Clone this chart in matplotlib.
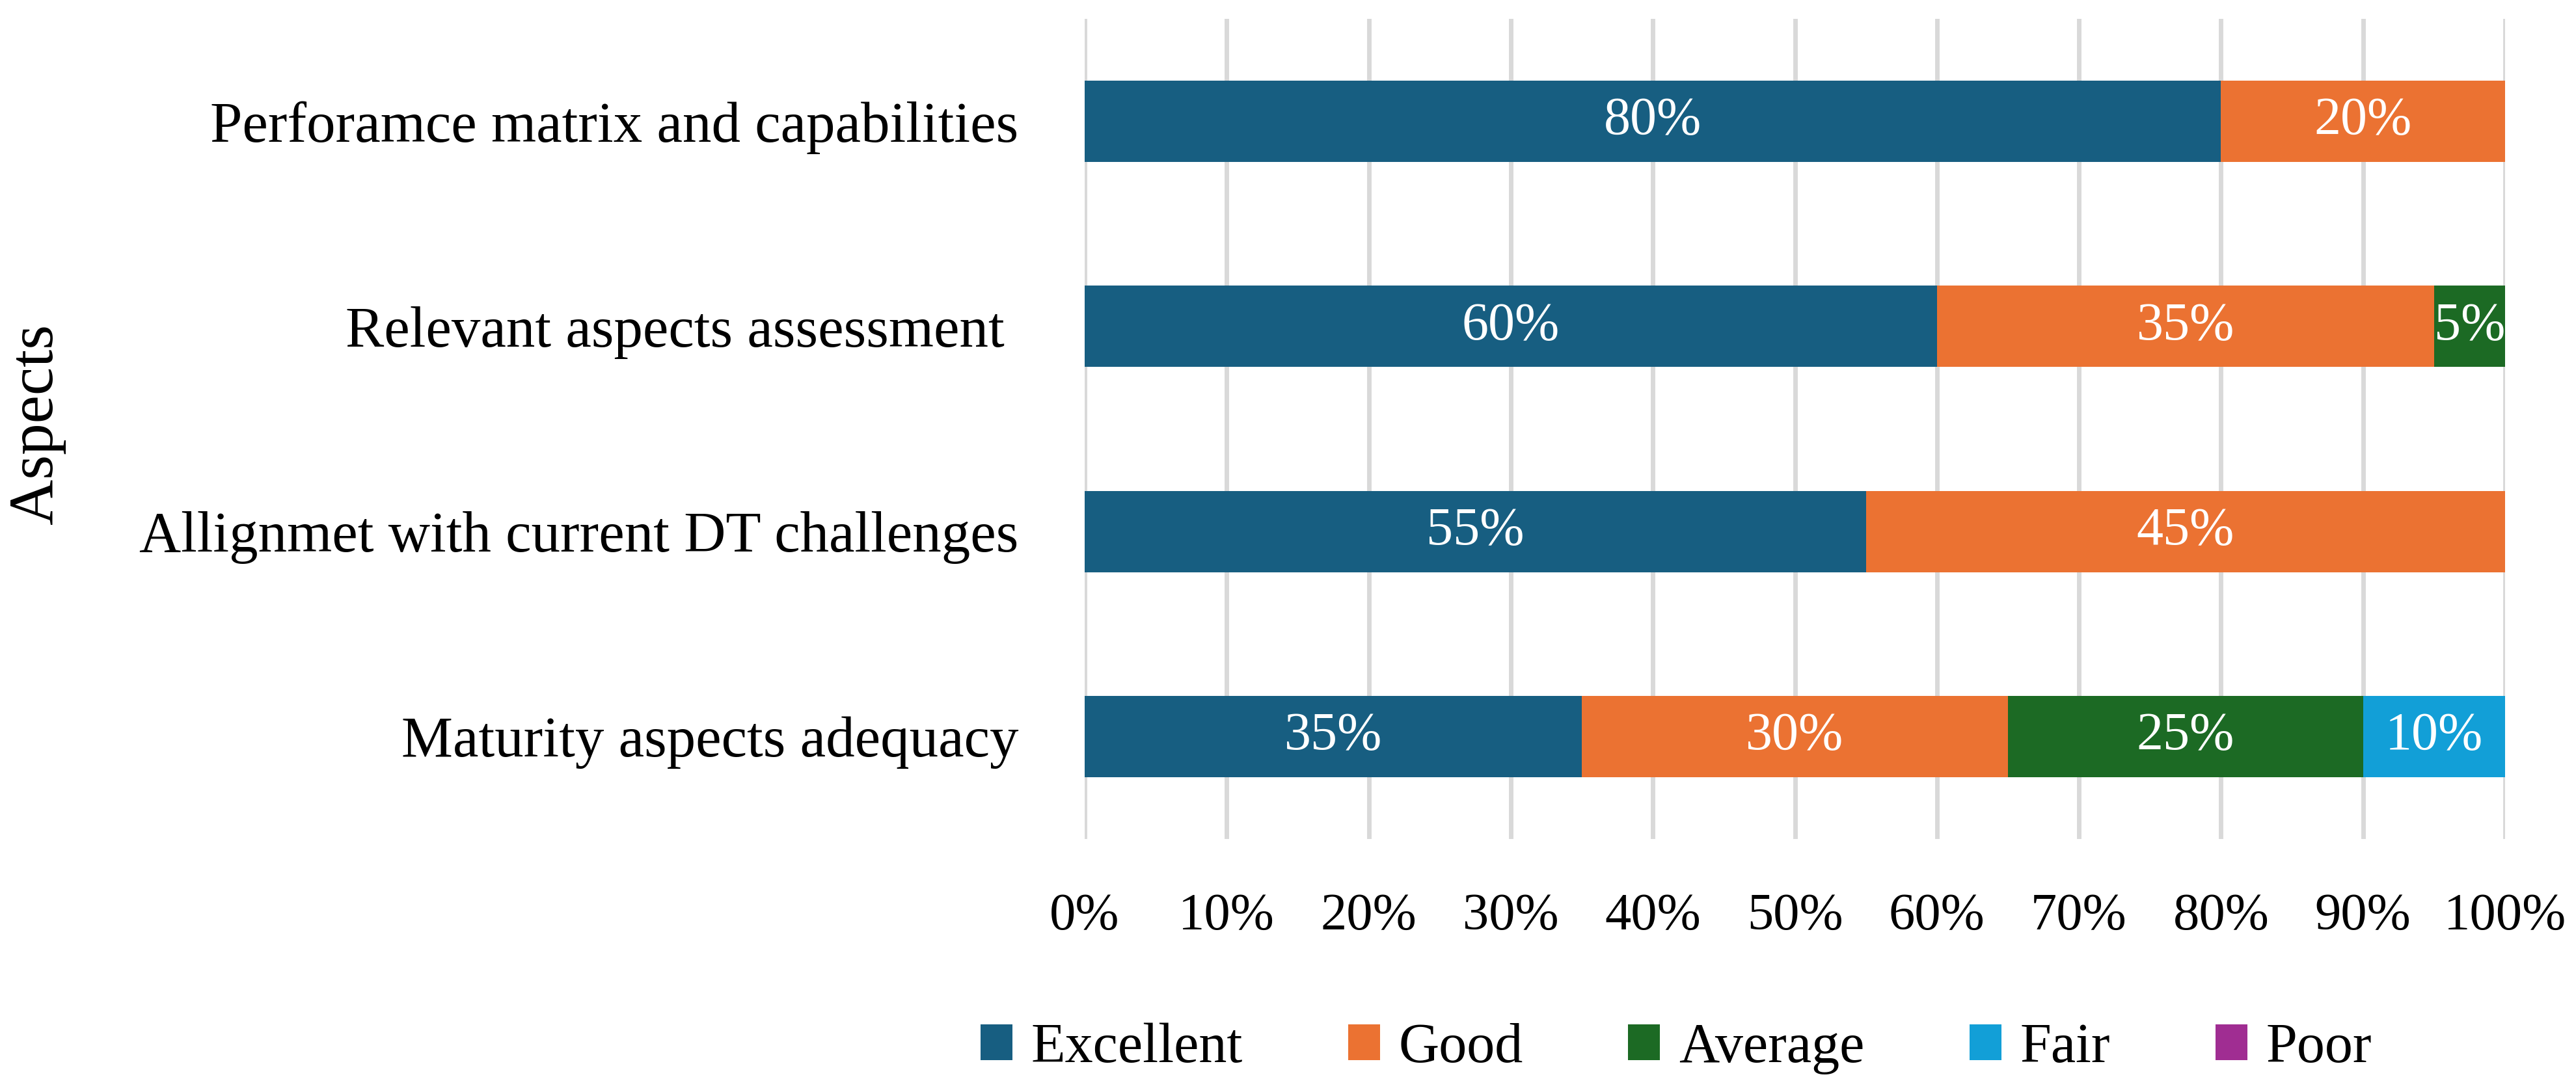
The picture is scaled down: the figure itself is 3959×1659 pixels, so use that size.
import matplotlib
matplotlib.use("Agg")
import matplotlib.pyplot as plt
import numpy as np

categories = ["Perforamce matrix and capabilities",
              "Relevant aspects assessment ",
              "Allignmet with current DT challenges",
              "Maturity aspects adequacy"]
series_names = ["Excellent", "Good", "Average", "Fair", "Poor"]
excellent = [80, 60, 55, 35]
good = [20, 35, 45, 30]
average = [0, 5, 0, 25]
fair = [0, 0, 0, 10]
poor = [0, 0, 0, 0]
series_values = [excellent, good, average, fair, poor]
colors = ["#175E81", "#EB7232", "#1C6A24", "#129FD7", "#A02D92"]
xticks = [0, 10, 20, 30, 40, 50, 60, 70, 80, 90, 100]
xtick_labels = ["%d%%" % v for v in xticks]
ylabel = "Aspects"

FONT = "Liberation Serif"
plt.rcParams["font.family"] = [FONT, "DejaVu Serif"]

W, H = 3959, 1659
fig = plt.figure(figsize=(W / 100, H / 100), dpi=100)
ax = fig.add_axes([1667 / W, 1 - 1290 / H, (3850 - 1667) / W, (1290 - 29) / H])

y = np.arange(len(categories))
left = np.zeros(len(categories))
handles = []
for name, vals, col in zip(series_names, series_values, colors):
    vals = np.array(vals, dtype=float)
    b = ax.barh(y, vals, left=left, height=0.397, color=col, label=name,
                zorder=3, linewidth=0)
    handles.append(b)
    for yi, (l, v) in enumerate(zip(left, vals)):
        if v > 0:
            ax.text(l + v / 2, yi, "%d%%" % v, ha="center", va="center",
                    color="white", fontsize=59, zorder=4)
    left = left + vals

ax.set_xlim(0, 100)
ax.set_ylim(len(categories) - 0.5, -0.5)
ax.set_xticks(xticks)
ax.set_xticklabels(xtick_labels, fontsize=58)
ax.set_yticks(y)
ax.set_yticklabels(categories, fontsize=64)
ax.tick_params(axis="both", length=0)
ax.tick_params(axis="x", pad=60)
ax.tick_params(axis="y", pad=73)
ax.grid(axis="x", color="#D9D9D9", linewidth=5, zorder=0)
ax.grid(axis="y", visible=False)
for s in ax.spines.values():
    s.set_visible(False)

fig.text(57 / W, 1 - 652 / H, ylabel, rotation=90, ha="center", va="center",
         fontsize=70)

leg = fig.legend(handles=handles, labels=series_names, loc="center left",
                 bbox_to_anchor=(1507 / W, 1 - 1612 / H), ncol=5, frameon=False,
                 fontsize=62, handlelength=0.57, handleheight=0.6,
                 handletextpad=0.33, columnspacing=1.88, borderpad=0,
                 borderaxespad=0)

fig.savefig("out.png", dpi=100)
